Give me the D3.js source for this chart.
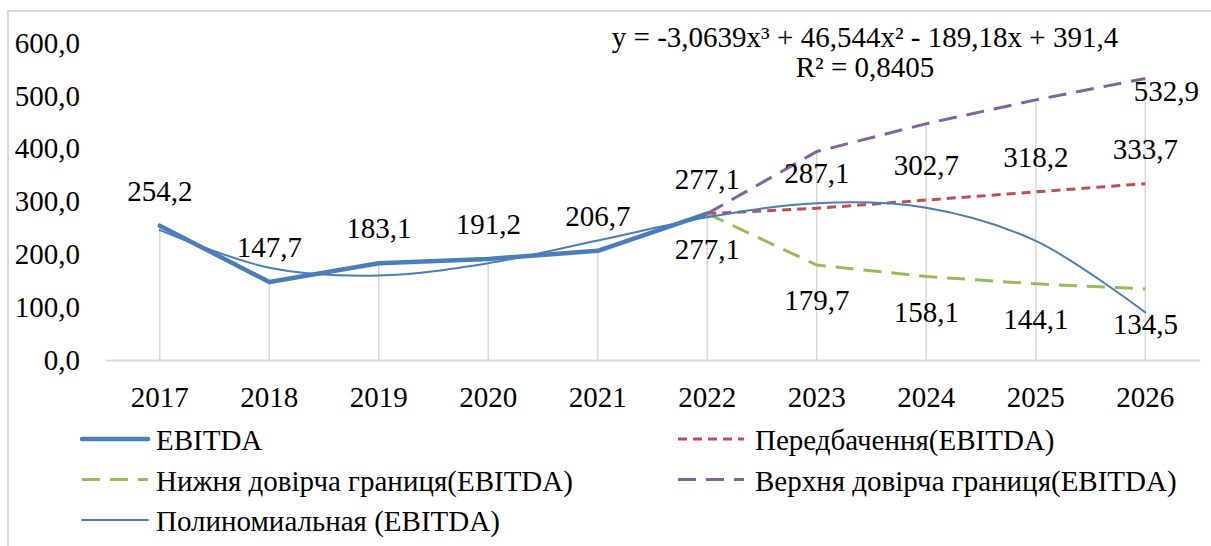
<!DOCTYPE html>
<html>
<head>
<meta charset="utf-8">
<script src="https://cdn.jsdelivr.net/npm/d3@7"></script>
</head>
<body style="margin:0">
<div id="chart"></div>
<script>
// years on the x axis
const years = [2017, 2018, 2019, 2020, 2021, 2022, 2023, 2024, 2025, 2026];
const yTicks = [0, 100, 200, 300, 400, 500, 600];

// actual values
const ebitdaYears = [2017, 2018, 2019, 2020, 2021, 2022];
const ebitda = [254.2, 147.7, 183.1, 191.2, 206.7, 277.1];

// forecast and its bounds
const forecastYears = [2022, 2023, 2024, 2025, 2026];
const forecast = [277.1, 287.1, 302.7, 318.2, 333.7];
const lowerBound = [277.1, 179.7, 158.1, 144.1, 134.5];
const upperBound = [277.1, 394.5, 447.3, 492.3, 532.9];

// polynomial trend at each year
const trend = [245.7, 174.7, 160.0, 183.3, 226.1, 270.1, 296.9, 288.1, 225.3, 90.1];

const equationText = "y = -3,0639x³ + 46,544x² - 189,18x + 391,4";
const r2Text = "R² = 0,8405";

const legendNames = ["EBITDA", "Передбачення(EBITDA)", "Нижня довірча границя(EBITDA)",
  "Верхня довірча границя(EBITDA)", "Полиномиальная (EBITDA)"];

const width = 1211;
const height = 546;
const fontSize = 29;
const fontFamily = "'Liberation Serif'";

const blue = "#4a7ebb";
const red = "#c0504d";
const green = "#9bbb59";
const purple = "#8064a2";
const grid = "#d9d9d9";

const svg = d3.select("#chart").append("svg")
  .attr("width", width)
  .attr("height", height);

// chart frame
svg.append("rect")
  .attr("x", 8).attr("y", 11)
  .attr("width", width + 20).attr("height", height + 20)
  .attr("fill", "none")
  .attr("stroke", grid)
  .attr("stroke-width", 2);

const xBand = d3.scaleBand().domain(years).range([105, 1200]).padding(0);
const x = function (d) { return xBand(d) + xBand.bandwidth() / 2; };
const y = d3.scaleLinear().domain([0, 600]).range([360, 43]);

const fmt = function (v) { return d3.format(".1f")(v).replace(".", ","); };

// drop lines from the highest point of each year
const tops = years.map(function (yr) {
  const vals = [];
  const i1 = ebitdaYears.indexOf(yr);
  if (i1 >= 0) vals.push(ebitda[i1]);
  const i2 = forecastYears.indexOf(yr);
  if (i2 >= 0) { vals.push(forecast[i2], lowerBound[i2], upperBound[i2]); }
  return { year: yr, top: d3.max(vals) };
});
svg.append("g").selectAll("line")
  .data(tops)
  .enter()
  .append("line")
  .attr("x1", function (d) { return x(d.year); })
  .attr("x2", function (d) { return x(d.year); })
  .attr("y1", function (d) { return y(d.top); })
  .attr("y2", y(0))
  .attr("stroke", grid)
  .attr("stroke-width", 1.5);

// x axis
const xAxis = svg.append("g")
  .attr("transform", "translate(0," + y(0) + ")")
  .call(d3.axisBottom(xBand).tickSize(0).tickSizeOuter(0));
xAxis.attr("font-family", fontFamily).attr("font-size", fontSize);
xAxis.select(".domain").attr("stroke", grid).attr("stroke-width", 2);
xAxis.selectAll("text")
  .attr("y", 37)
  .attr("dy", "0.35em")
  .attr("font-family", fontFamily)
  .attr("font-size", fontSize)
  .attr("fill", "#000");

// y axis labels only
const yAxis = svg.append("g")
  .attr("transform", "translate(80,0)")
  .call(d3.axisLeft(y).tickValues(yTicks).tickSize(0).tickPadding(0).tickFormat(fmt));
yAxis.attr("font-family", fontFamily).attr("font-size", fontSize);
yAxis.select(".domain").remove();
yAxis.selectAll("text")
  .attr("font-family", fontFamily)
  .attr("font-size", fontSize)
  .attr("fill", "#000");

// lines
function drawLine(xs, vs, color, w, dash, curve) {
  const pts = xs.map(function (yr, i) { return [x(yr), y(vs[i])]; });
  svg.append("path")
    .datum(pts)
    .attr("d", d3.line().curve(curve || d3.curveLinear))
    .attr("fill", "none")
    .attr("stroke", color)
    .attr("stroke-width", w)
    .attr("stroke-dasharray", dash)
    .attr("stroke-linejoin", "round")
    .attr("stroke-linecap", dash ? "butt" : "round");
}

drawLine(ebitdaYears, ebitda, blue, 4.5, null);
drawLine(forecastYears, forecast, red, 3, "9,6");
drawLine(forecastYears, lowerBound, green, 3, "18,10");
drawLine(forecastYears, upperBound, purple, 3, "18,10");
drawLine(years, trend, blue, 2, null, d3.curveCatmullRom);

// text helper
function addText(px, py, str, anchor) {
  return svg.append("text")
    .attr("x", px)
    .attr("y", py)
    .attr("dy", "0.35em")
    .attr("text-anchor", anchor || "middle")
    .attr("font-family", fontFamily)
    .attr("font-size", fontSize)
    .attr("fill", "#000")
    .text(str);
}

// data labels
function drawLabels(xs, vs, dy) {
  xs.forEach(function (yr, i) {
    addText(x(yr), y(vs[i]) + dy, fmt(vs[i]));
  });
}

drawLabels(ebitdaYears.slice(0, 5), ebitda.slice(0, 5), -35);
drawLabels(forecastYears, forecast, -35);
drawLabels(forecastYears, lowerBound, 35);

// only the last upper bound value carries a label
const lastUp = upperBound[upperBound.length - 1];
addText(x(2026) + 21, y(lastUp) + 12, fmt(lastUp));

// trend equation
addText(865, 37, equationText);
addText(865, 67, r2Text);

// legend
const legendStyle = [
  { color: blue, w: 4.5, dash: null },
  { color: red, w: 3, dash: "9,6" },
  { color: green, w: 3, dash: "18,10" },
  { color: purple, w: 3, dash: "18,10" },
  { color: blue, w: 2, dash: null }
];
const legend = svg.append("g").selectAll("g")
  .data(legendNames)
  .enter()
  .append("g")
  .attr("transform", function (d, i) {
    const col = i % 2;
    const row = Math.floor(i / 2);
    return "translate(" + (col == 0 ? 82 : 678) + "," + (439 + row * 40.5) + ")";
  });
legend.append("line")
  .attr("x1", 0).attr("x2", 66)
  .attr("y1", 0).attr("y2", 0)
  .attr("stroke", function (d, i) { return legendStyle[i].color; })
  .attr("stroke-width", function (d, i) { return legendStyle[i].w; })
  .attr("stroke-dasharray", function (d, i) { return legendStyle[i].dash; })
  .attr("stroke-linecap", function (d, i) { return legendStyle[i].dash ? "butt" : "round"; });
legend.append("text")
  .attr("x", function (d, i) { return i % 2 == 0 ? 74 : 77; })
  .attr("y", 1).attr("dy", "0.35em")
  .attr("font-family", fontFamily)
  .attr("font-size", fontSize)
  .attr("fill", "#000")
  .text(function (d) { return d; });
</script>
</body>
</html>
